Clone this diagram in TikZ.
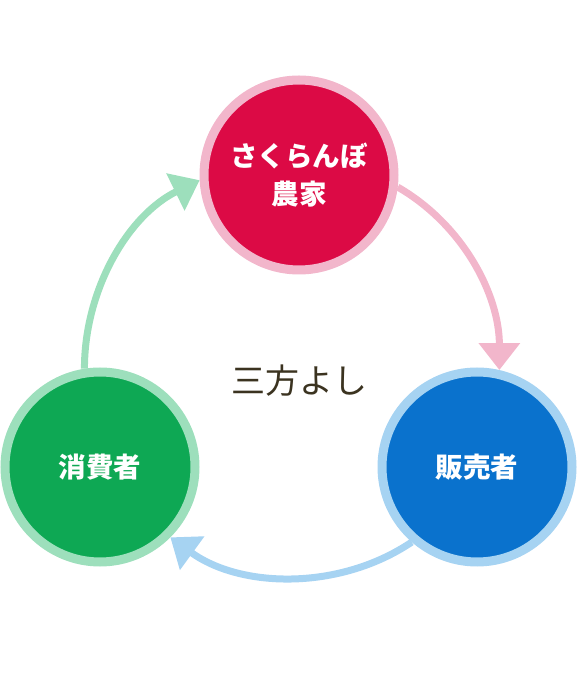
\documentclass[tikz,border=0pt]{standalone}
\usepackage{fontspec}
\newfontfamily\jpfont{Noto Sans CJK JP}
\usetikzlibrary{arrows.meta}
\definecolor{farmring}{HTML}{F2B6CB}
\definecolor{farmfill}{HTML}{DC0A45}
\definecolor{sellring}{HTML}{A6D3F2}
\definecolor{sellfill}{HTML}{0A72CD}
\definecolor{userring}{HTML}{9DDFBC}
\definecolor{userfill}{HTML}{0EA854}
\definecolor{motto}{HTML}{3B3320}
\tikzset{
  stage/.style={circle,line width=9pt,minimum size=190pt,inner sep=0pt,outer sep=4.5pt,
    text=white,align=center,font=\jpfont\bfseries\fontsize{27.5}{38}\selectfont},
  flow/.style={line width=7pt,looseness=0.92,-{Triangle[length=27pt,width=40pt]}}
}
\begin{document}
\begin{tikzpicture}[x=1pt,y=1pt]
\useasboundingbox (0,0) rectangle (577,691);
\node[stage,draw=farmring,fill=farmfill] (farmer) at (299,516) {さくらんぼ\\農家};
\node[stage,draw=sellring,fill=sellfill] (seller) at (477,224) {販売者};
\node[stage,draw=userring,fill=userfill] (consumer) at (100,224) {消費者};
\draw[flow,farmring] (farmer.-7) to[out=-30,in=90] (seller.77);
\draw[flow,sellring] (seller.229) to[out=214,in=-36] (consumer.-45);
\draw[flow,userring] (consumer.99) to[out=90,in=206] (farmer.183);
\node[text=motto,font=\jpfont\fontsize{34}{34}\selectfont] (motto) at (299,310) {三方よし};
\end{tikzpicture}
\end{document}
